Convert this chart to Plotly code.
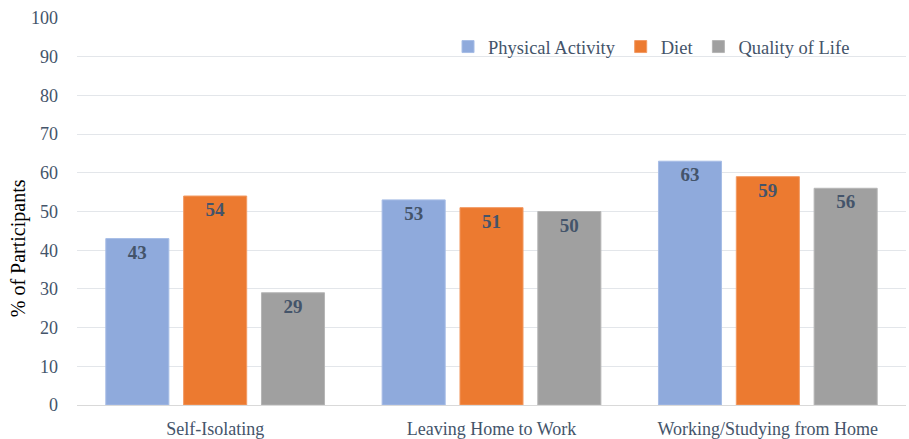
import plotly.graph_objects as go

categories = ["Self-Isolating", "Leaving Home to Work", "Working/Studying from Home"]
physical_activity = [43, 53, 63]
diet = [54, 51, 59]
quality_of_life = [29, 50, 56]
y_ticks = [0, 10, 20, 30, 40, 50, 60, 70, 80, 90, 100]

series = [
    ("Physical Activity", physical_activity, "#8faadc", "#a7bde6"),
    ("Diet", diet, "#ec7a30", "#f29a63"),
    ("Quality of Life", quality_of_life, "#a0a0a0", "#b5b5b5"),
]

font_fam = "Liberation Serif"
txt_col = "#44546a"

fig = go.Figure()
for name, vals, col, edge in series:
    fig.add_trace(go.Bar(
        name=name, x=categories, y=vals,
        marker=dict(color=col, line=dict(color=edge, width=1)),
        text=vals, textposition="inside", insidetextanchor="end",
        textfont=dict(family=font_fam, size=19, color=txt_col, weight="bold"),
        textangle=0,
    ))

fig.update_layout(
    width=909, height=439,
    barmode="group", bargap=0.155, bargroupgap=0.19,
    plot_bgcolor="white", paper_bgcolor="white",
    margin=dict(l=77, r=3, t=18, b=34),
    font=dict(family=font_fam, size=18, color=txt_col),
    uniformtext=dict(minsize=10, mode="show"),
    legend=dict(orientation="h", x=0.9385, xanchor="right", y=0.925, yanchor="middle",
                font=dict(family=font_fam, size=18.5, color=txt_col),
                itemwidth=30, traceorder="normal", bgcolor="rgba(0,0,0,0)"),
    showlegend=True,
    annotations=[dict(text="% of Participants", xref="paper", yref="paper",
                      x=-0.0712, y=0.405, xanchor="center", yanchor="middle",
                      textangle=-90, showarrow=False,
                      font=dict(family=font_fam, size=20, color="#000000"))],
)
fig.update_xaxes(showgrid=False, showline=True, linecolor="#d9d9d9", linewidth=1,
                 ticks="", ticklabelstandoff=7, automargin=False,
                 tickfont=dict(family=font_fam, size=18, color=txt_col))
fig.update_yaxes(range=[0, 100], tickvals=y_ticks, showgrid=True, gridcolor="#e3e6ea",
                 gridwidth=1, zeroline=False, showline=False, ticks="",
                 ticklabelstandoff=18, automargin=False,
                 tickfont=dict(family=font_fam, size=18, color=txt_col))

fig.write_html("out.html", post_script="document.body.style.margin='0';",
               config={"displayModeBar": False})
